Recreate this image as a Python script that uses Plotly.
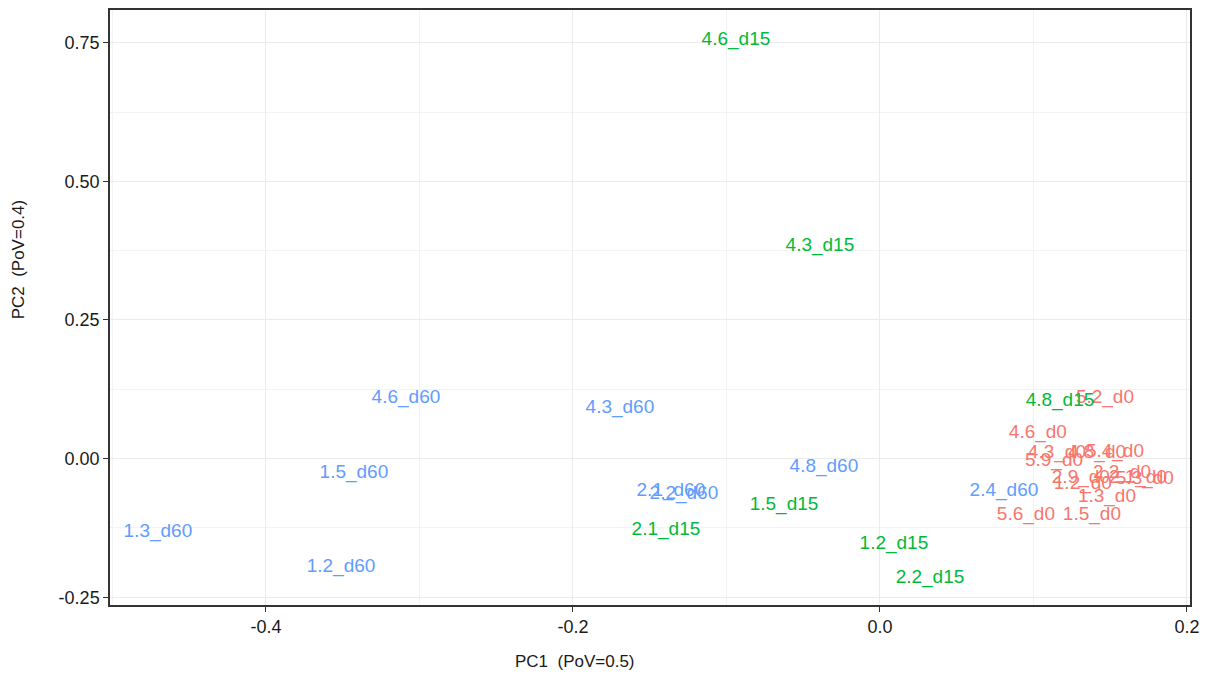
import plotly.graph_objects as go

# Sample labels, PC scores and group (day)
d0_labels = ["5.2_d0", "4.6_d0", "4.3_d0", "5.9_d0", "4.8_d0", "5.4_d0", "2.9_d0", "1.2_d0",
             "2.2_d0", "2.1_d0", "5.3_d0", "1.3_d0", "5.6_d0", "1.5_d0"]
d0_pc1 = [0.1466, 0.1029, 0.1153, 0.1134, 0.1414, 0.1531, 0.1309, 0.1322,
          0.1577, 0.1681, 0.1726, 0.1479, 0.0951, 0.1381]
d0_pc2 = [0.108, 0.045, 0.009, -0.004, 0.009, 0.011, -0.036, -0.047,
          -0.027, -0.036, -0.038, -0.070, -0.103, -0.103]

d15_labels = ["4.6_d15", "4.3_d15", "4.8_d15", "1.5_d15", "2.1_d15", "1.2_d15", "2.2_d15"]
d15_pc1 = [-0.0938, -0.0391, 0.1173, -0.0625, -0.1394, 0.0091, 0.0326]
d15_pc2 = [0.755, 0.383, 0.104, -0.085, -0.129, -0.155, -0.216]

d60_labels = ["4.6_d60", "4.3_d60", "1.5_d60", "1.3_d60", "1.2_d60", "4.8_d60",
              "2.1_d60", "2.2_d60", "2.4_d60"]
d60_pc1 = [-0.3088, -0.1694, -0.3427, -0.4704, -0.3511, -0.0365, -0.1362, -0.1277, 0.0808]
d60_pc2 = [0.108, 0.090, -0.027, -0.133, -0.196, -0.016, -0.059, -0.065, -0.058]

x_ticks = [-0.4, -0.2, 0.0, 0.2]
x_ticklabels = ["-0.4", "-0.2", "0.0", "0.2"]
y_ticks = [-0.25, 0.0, 0.25, 0.5, 0.75]
y_ticklabels = ["-0.25", "0.00", "0.25", "0.50", "0.75"]

FONT = "Liberation Sans, Arial, sans-serif"

fig = go.Figure()
for labels, xs, ys, col in [(d0_labels, d0_pc1, d0_pc2, "#F8766D"),
                             (d15_labels, d15_pc1, d15_pc2, "#00BA38"),
                             (d60_labels, d60_pc1, d60_pc2, "#619CFF")]:
    fig.add_trace(go.Scatter(x=xs, y=ys, text=labels, mode="text",
                             textposition="middle center",
                             textfont=dict(family=FONT, size=19, color=col),
                             showlegend=False, hoverinfo="text"))

axis_common = dict(showline=True, mirror=True, linecolor="#333333", linewidth=1.5,
                   ticks="outside", ticklen=5, tickcolor="#333333", tickwidth=1,
                   showgrid=True, gridcolor="#EBEBEB", gridwidth=1.2, zeroline=False,
                   tickfont=dict(family=FONT, size=18, color="#1a1a1a"))

fig.update_layout(
    width=1207, height=671,
    margin=dict(l=102, r=25, t=0, b=74),
    paper_bgcolor="white", plot_bgcolor="white",
    xaxis=dict(range=[-0.5016, 0.202], tickvals=x_ticks, ticktext=x_ticklabels,
               minor=dict(dtick=0.1, tick0=0, showgrid=True, gridcolor="#F3F3F3", ticks=""),
               **axis_common),
    yaxis=dict(range=[-0.264, 0.809], tickvals=y_ticks, ticktext=y_ticklabels,
               minor=dict(dtick=0.125, tick0=0, showgrid=True, gridcolor="#F3F3F3", ticks=""),
               **axis_common),
    annotations=[
        dict(text="PC1  (PoV=0.5)", xref="paper", yref="paper", x=(575 - 110) / 1080, y=-0.095,
             xanchor="center", yanchor="middle", showarrow=False,
             font=dict(family=FONT, size=17, color="#1a1a1a")),
        dict(text="PC2  (PoV=0.4)", xref="paper", yref="paper", x=-0.085, y=(605 - 258) / 597,
             xanchor="center", yanchor="middle", showarrow=False, textangle=-90,
             font=dict(family=FONT, size=17, color="#1a1a1a")),
    ],
)

fig.write_html("out.html")
